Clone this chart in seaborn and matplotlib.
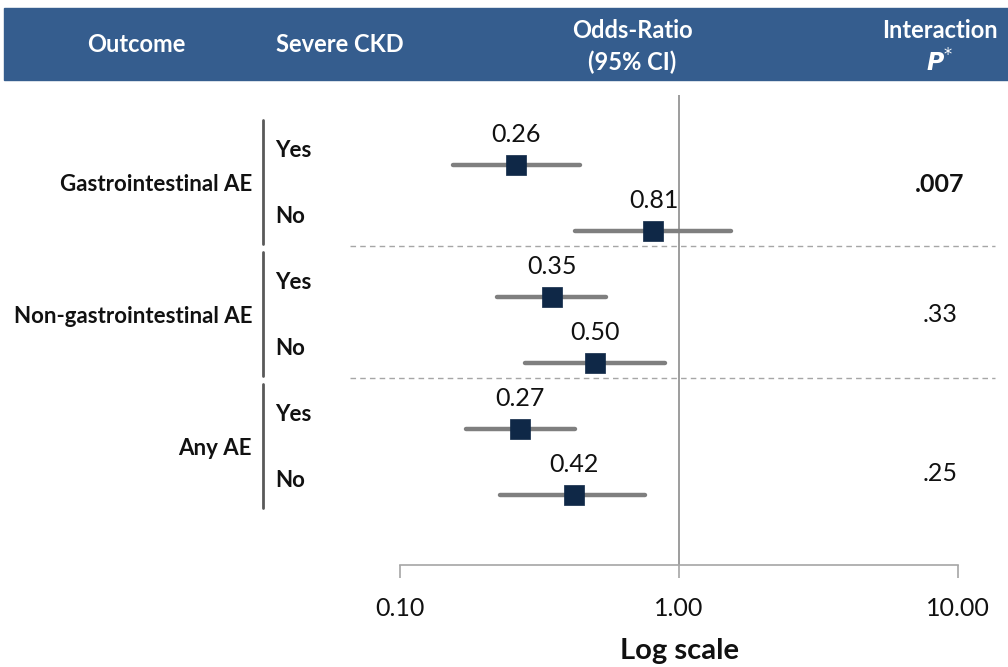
import matplotlib
matplotlib.use('Agg')
import matplotlib.pyplot as plt
import matplotlib.transforms as mtransforms
from matplotlib.lines import Line2D
from matplotlib.patches import Rectangle
import seaborn as sns

# data
outcomes = ['Gastrointestinal AE', 'Non-gastrointestinal AE', 'Any AE']
severe_ckd = ['Yes', 'No', 'Yes', 'No', 'Yes', 'No']
odds_ratio = [0.26, 0.81, 0.35, 0.50, 0.27, 0.42]
ci_low = [0.155, 0.424, 0.223, 0.281, 0.172, 0.228]
ci_high = [0.44, 1.54, 0.547, 0.89, 0.424, 0.755]
p_values = ['.007', '.33', '.25']
p_bold = [True, False, False]
tick_values = [0.1, 1, 10]
tick_labels = ['0.10', '1.00', '10.00']

sns.set_theme(style='white')
plt.rcParams['font.family'] = ['Lato', 'DejaVu Sans']

W, H = 1008, 667
fig = plt.figure(figsize=(W / 100, H / 100), dpi=100)

def fx(px):
    return px / W

def fy(py):
    return 1 - py / H

# plot area: 0.1 at x=400px, 10 at x=958px
ax = fig.add_axes([fx(400), fy(565), fx(958) - fx(400), fy(95) - fy(565)])
ax.set_xscale('log')

rows = list(range(len(odds_ratio)))

# confidence intervals
ci = ax.hlines(rows, ci_low, ci_high, color='#7f7f7f', lw=3.2, zorder=2)
ci.set_capstyle('round')

sns.scatterplot(x=odds_ratio, y=rows, marker='s', s=190, color='#0f2847',
                edgecolor='#0f2847', linewidth=0.5, ax=ax, zorder=3, legend=False)

for r, v in zip(rows, odds_ratio):
    ax.annotate(f'{v:.2f}', (v, r), xytext=(0, 22), textcoords='offset points',
                ha='center', va='center', fontsize=18, color='#111111')

ax.axvline(1, color='#8c8c8c', lw=1.2, zorder=1)

ax.set_xlim(0.1, 10)
ax.set_ylim(6.06, -1.06)
ax.set_xticks(tick_values)
ax.set_xticklabels(tick_labels, fontsize=18, color='#111111')
ax.minorticks_off()
ax.set_yticks([])
ax.tick_params(axis='x', direction='out', length=9, width=1.2, color='#a6a6a6', pad=14, bottom=True)
for s in ['top', 'left', 'right']:
    ax.spines[s].set_visible(False)
ax.spines['bottom'].set_color('#a6a6a6')
ax.spines['bottom'].set_linewidth(1.2)
ax.set_xlabel('Log scale', fontsize=21, fontweight='bold', color='#111111', labelpad=13)

# row / group labels outside the plot area
tr = mtransforms.blended_transform_factory(fig.transFigure, ax.transData)
for g, name in enumerate(outcomes):
    top, bot = 2 * g, 2 * g + 1
    fig.text(fx(252), top + 0.3, name, transform=tr, ha='right', va='center',
             fontsize=16, fontweight='bold', color='#111111')
    fig.lines.append(Line2D([fx(263), fx(263)], [top - 0.68, bot + 0.19], transform=tr,
                            color='#595959', lw=2))
    if g < len(outcomes) - 1:
        fig.lines.append(Line2D([fx(350), fx(995)], [bot + 0.23, bot + 0.23], transform=tr,
                                color='#a6a6a6', lw=1, ls=(0, (4, 3))))

for r, lab in zip(rows, severe_ckd):
    fig.text(fx(275), r - 0.22, lab, transform=tr, ha='left', va='center',
             fontsize=16, fontweight='bold', color='#111111')

p_rows = [0.3, 2.27, 4.68]
for pr, p, b in zip(p_rows, p_values, p_bold):
    fig.text(fx(940), pr, p, transform=tr, ha='center', va='center', fontsize=18,
             fontweight='bold' if b else 'normal', color='#111111')

# header band
fig.patches.append(Rectangle((fx(4), fy(80)), 1 - fx(4), fy(8) - fy(80),
                             transform=fig.transFigure, color='#355d8e', zorder=0))
hdr = dict(ha='center', va='center', fontsize=17, fontweight='bold', color='white')
fig.text(fx(136), fy(45), 'Outcome', **hdr)
fig.text(fx(340), fy(45), 'Severe CKD', **hdr)
fig.text(fx(632), fy(30), 'Odds-Ratio', **hdr)
fig.text(fx(632), fy(62), '(95% CI)', **hdr)
fig.text(fx(940), fy(30), 'Interaction', **hdr)
fig.text(fx(940), fy(62), r'$\boldsymbol{P}^{*}$', **hdr)

fig.savefig('out.png', dpi=100)
